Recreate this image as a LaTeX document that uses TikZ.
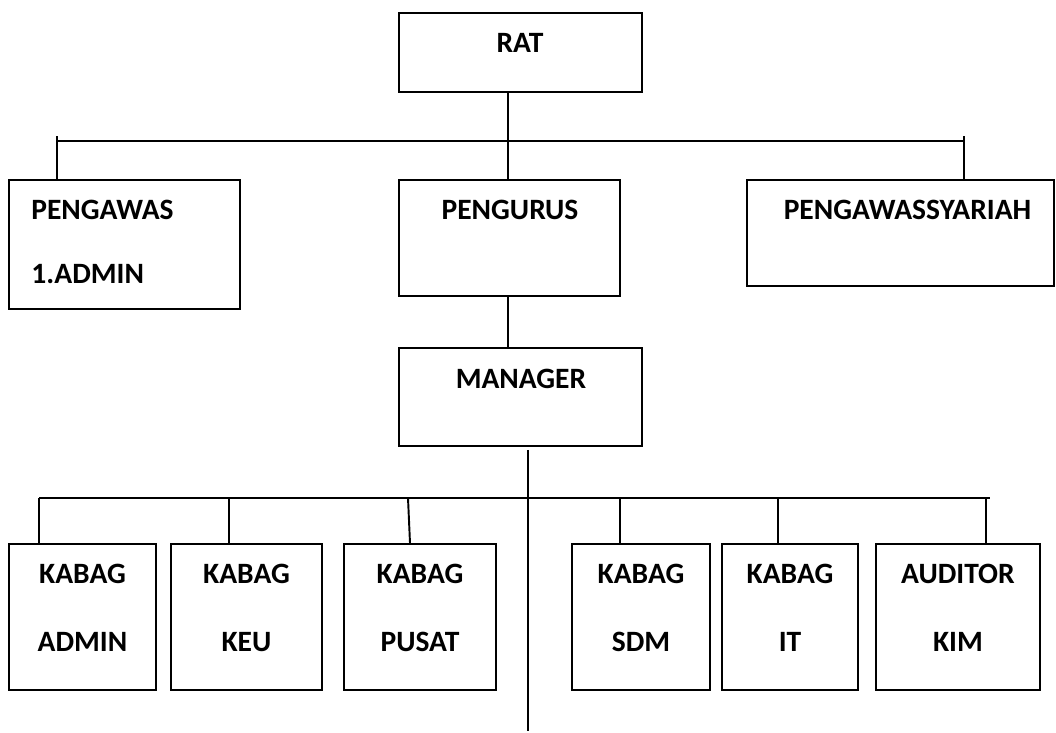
\documentclass[tikz,border=0pt]{standalone}
\usepackage{fontspec}
\setmainfont{Carlito}
\usetikzlibrary{positioning,calc}
\tikzset{
  box/.style={draw, rectangle, line width=1.1pt, inner sep=0pt},
  lbl/.style={font=\bfseries\fontsize{16.8}{20}\selectfont, inner sep=0pt},
  link/.style={line width=1.1pt}
}

\begin{document}
\begin{tikzpicture}
\useasboundingbox (0,0) rectangle (21.12,-14.66);

\node[box, minimum width=4.86cm, minimum height=1.58cm] (rat) at (10.41,-1.05) {};
\node[lbl] (rat-txt) at (10.40,-0.86) {RAT};

\node[box, minimum width=4.62cm, minimum height=2.58cm] (pengawas) at (2.49,-4.89) {};
\node[lbl, anchor=west] (pengawas-a) at (0.62,-4.20) {PENGAWAS};
\node[lbl, anchor=west] (pengawas-b) at (0.62,-5.48) {1.ADMIN};

\node[box, minimum width=4.42cm, minimum height=2.32cm] (pengurus) at (10.19,-4.76) {};
\node[lbl] (pengurus-txt) at (10.20,-4.20) {PENGURUS};

\node[box, minimum width=6.14cm, minimum height=2.12cm] (syariah) at (18.01,-4.66) {};
\node[lbl] (syariah-txt) at (18.15,-4.20) {PENGAWASSYARIAH};

\node[box, minimum width=4.86cm, minimum height=1.96cm] (manager) at (10.41,-7.94) {};
\node[lbl] (manager-txt) at (10.42,-7.58) {MANAGER};

\foreach \n/\xx/\w/\top/\bot in {kadmin/1.65/2.94/KABAG/ADMIN, kkeu/4.93/3.02/KABAG/KEU,
    kpusat/8.40/3.04/KABAG/PUSAT, ksdm/12.82/2.76/KABAG/SDM, kit/15.80/2.72/KABAG/IT,
    kaud/19.16/3.28/AUDITOR/KIM} {
  \node[box, minimum width=\w cm, minimum height=2.92cm] (\n) at (\xx,-12.34) {};
  \node[lbl] (\n-a) at (\xx,-11.48) {\top};
  \node[lbl] (\n-b) at (\xx,-12.84) {\bot};
}

\coordinate (busL) at (1.14,-2.82);
\coordinate (busR) at (19.28,-2.82);
\coordinate (trunk) at (10.16,-2.82);
\draw[link] (busL) -- (busR);
\draw[link] ([yshift=0.1cm]busL) -- (busL |- pengawas.north);
\draw[link] ([yshift=0.1cm]busR) -- (busR |- syariah.north);
\draw[link] (trunk |- rat.south) -- (trunk |- pengurus.north);
\draw[link] (trunk |- pengurus.south) -- (trunk |- manager.north);

\coordinate (stem) at (10.56,-14.62);
\draw[link] ([yshift=-0.06cm]stem |- manager.south) -- (stem);

\draw[link] (0.78,-9.96) coordinate (lowL) -- (19.80,-9.96) coordinate (lowR);
\foreach \n/\xx in {kadmin/0.78, kkeu/4.58, ksdm/12.40, kit/15.56, kaud/19.72} {
  \coordinate (tap) at (\xx,-9.96);
  \draw[link] (tap) -- (tap |- \n.north);
}
\coordinate (tap-pusat) at (8.16,-9.96);
\draw[link] (tap-pusat) -- ([xshift=0.04cm]tap-pusat |- kpusat.north);
\end{tikzpicture}
\end{document}
